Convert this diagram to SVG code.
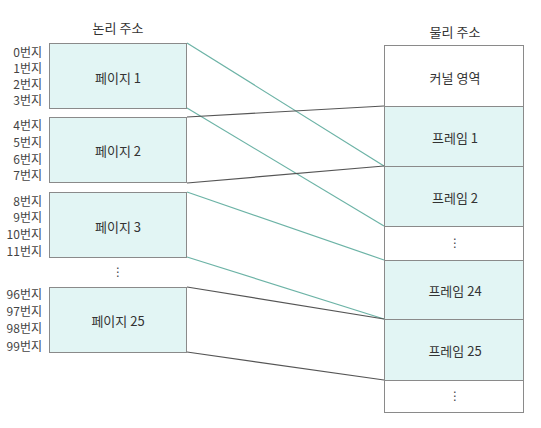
<svg xmlns="http://www.w3.org/2000/svg" width="541" height="428" viewBox="0 0 541 428">
<style>
text{font-family:"Noto Sans CJK KR","Noto Sans",sans-serif;fill:#333;}
.t{font-size:13px;text-anchor:middle;dominant-baseline:central;}
.a{font-size:12px;text-anchor:end;dominant-baseline:central;fill:#444;}
.box{fill:#e2f5f4;stroke:#8a8a8a;stroke-width:1;}
.wbox{fill:#ffffff;stroke:#8a8a8a;stroke-width:1;}
.teal{stroke:#6cb3a6;stroke-width:1.2;fill:none;}
.dark{stroke:#555;stroke-width:1.2;fill:none;}
.dots{font-family:"DejaVu Sans",sans-serif;font-size:12px;text-anchor:middle;dominant-baseline:central;fill:#444;}
</style>
<rect width="541" height="428" fill="#fff"/>
<text class="t" x="118" y="27">논리 주소</text>
<text class="t" x="455" y="31">물리 주소</text>
<g id="connectors">
<line class="teal" x1="187" y1="43" x2="384" y2="166"/>
<line class="teal" x1="187" y1="108" x2="384" y2="226"/>
<line class="dark" x1="187" y1="117" x2="384" y2="106"/>
<line class="dark" x1="187" y1="183" x2="384" y2="166"/>
<line class="teal" x1="187" y1="192" x2="384" y2="260"/>
<line class="teal" x1="187" y1="257" x2="384" y2="319"/>
<line class="dark" x1="187" y1="287" x2="384" y2="319"/>
<line class="dark" x1="187" y1="352" x2="384" y2="380"/>
</g>
<g id="page1">
<rect class="box" x="49.5" y="43.5" width="137" height="65"/>
<text class="t" x="118" y="77">페이지 1</text>
<text class="a" x="42" y="51">0번지</text>
<text class="a" x="42" y="67">1번지</text>
<text class="a" x="42" y="83">2번지</text>
<text class="a" x="42" y="99">3번지</text>
</g>
<g id="page2">
<rect class="box" x="49.5" y="117.5" width="137" height="65"/>
<text class="t" x="118" y="150">페이지 2</text>
<text class="a" x="42" y="124">4번지</text>
<text class="a" x="42" y="141">5번지</text>
<text class="a" x="42" y="158">6번지</text>
<text class="a" x="42" y="174">7번지</text>
</g>
<g id="page3">
<rect class="box" x="49.5" y="192.5" width="137" height="65"/>
<text class="t" x="118" y="226">페이지 3</text>
<text class="a" x="42" y="200">8번지</text>
<text class="a" x="42" y="216">9번지</text>
<text class="a" x="42" y="233">10번지</text>
<text class="a" x="42" y="250">11번지</text>
</g>
<g id="leftdots">
<text class="dots" x="118" y="272">⋮</text>
</g>
<g id="page25">
<rect class="box" x="49.5" y="287.5" width="137" height="65"/>
<text class="t" x="118" y="320">페이지 25</text>
<text class="a" x="42" y="293">96번지</text>
<text class="a" x="42" y="310">97번지</text>
<text class="a" x="42" y="327">98번지</text>
<text class="a" x="42" y="345">99번지</text>
</g>
<g id="kernel">
<rect class="wbox" x="384.5" y="45.5" width="139" height="61"/>
<text class="t" x="455" y="77">커널 영역</text>
</g>
<g id="frame1">
<rect class="box" x="384.5" y="106.5" width="139" height="60"/>
<text class="t" x="455" y="137">프레임 1</text>
</g>
<g id="frame2">
<rect class="box" x="384.5" y="166.5" width="139" height="60"/>
<text class="t" x="455" y="197">프레임 2</text>
</g>
<g id="rightdots1">
<rect class="wbox" x="384.5" y="226.5" width="139" height="34"/>
<text class="dots" x="455" y="243">⋮</text>
</g>
<g id="frame24">
<rect class="box" x="384.5" y="260.5" width="139" height="59"/>
<text class="t" x="455" y="290">프레임 24</text>
</g>
<g id="frame25">
<rect class="box" x="384.5" y="319.5" width="139" height="61"/>
<text class="t" x="455" y="350">프레임 25</text>
</g>
<g id="rightdots2">
<rect class="wbox" x="384.5" y="380.5" width="139" height="32"/>
<text class="dots" x="455" y="396">⋮</text>
</g>
</svg>
